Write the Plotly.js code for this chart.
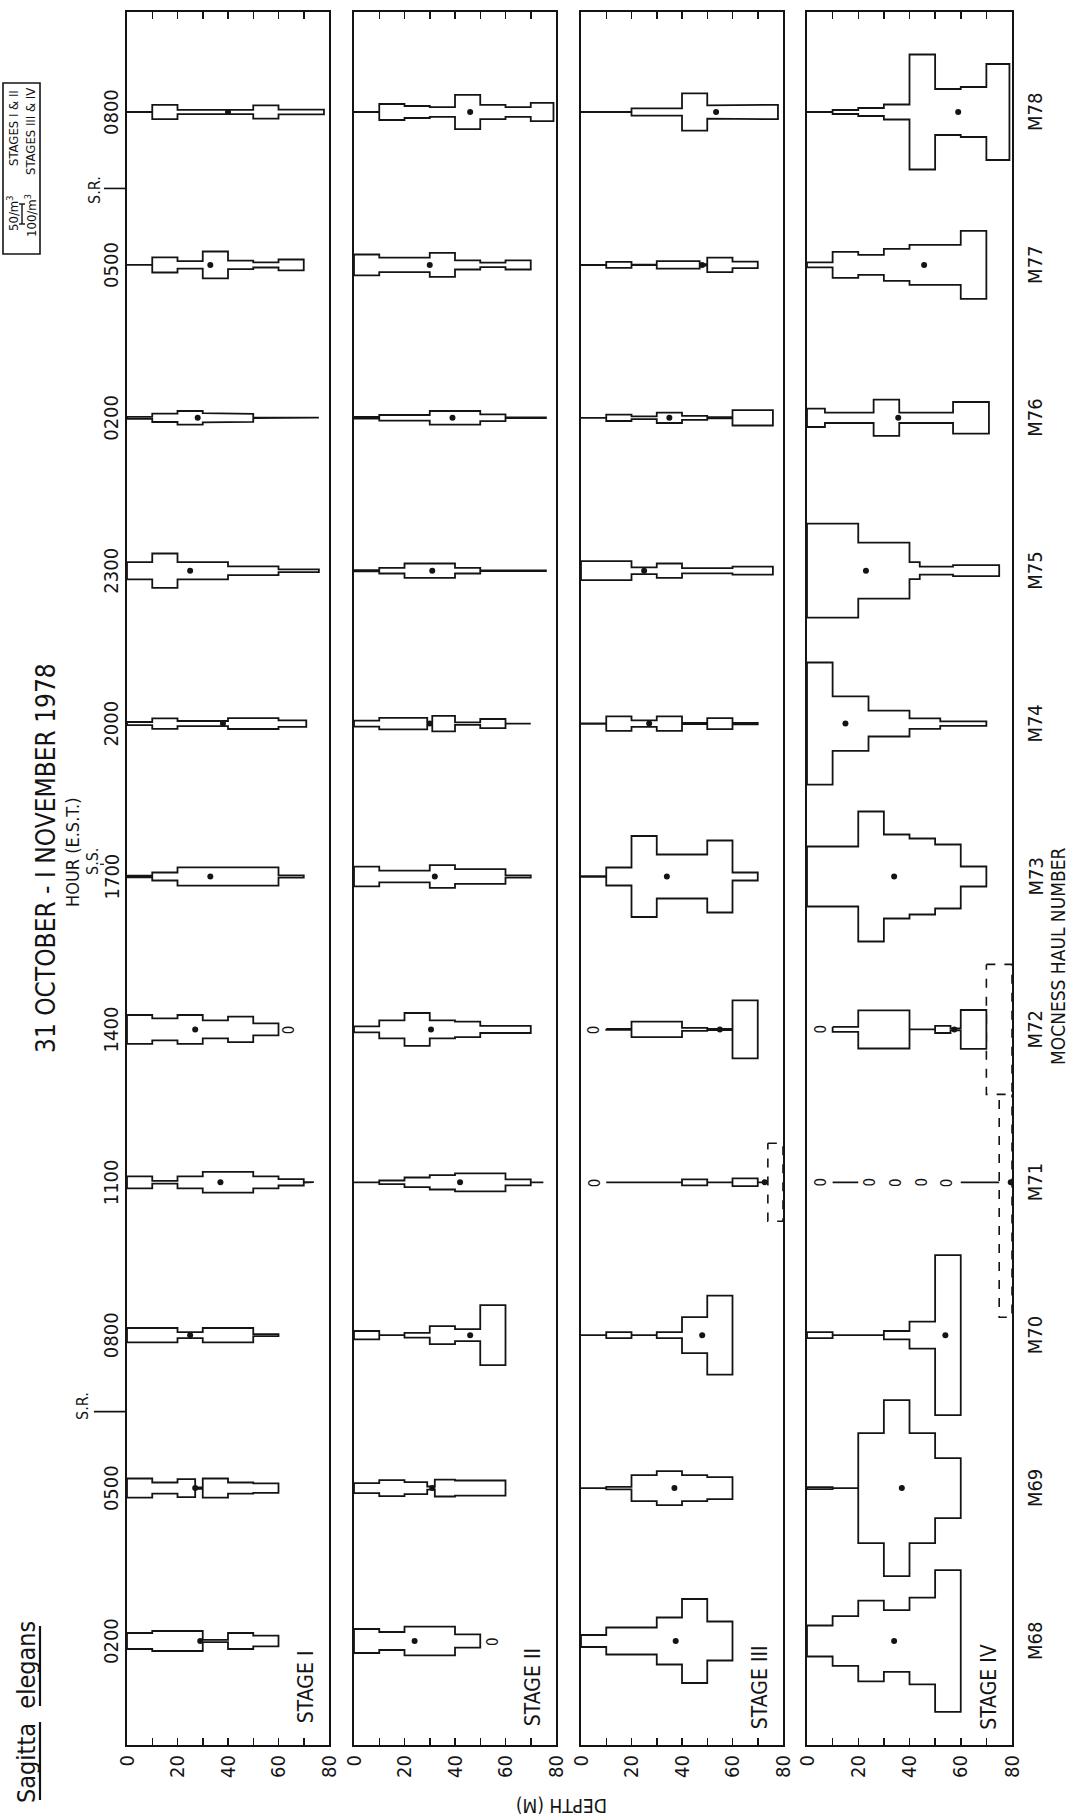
<!DOCTYPE html>
<html><head><meta charset="utf-8">
<script src="https://cdn.plot.ly/plotly-3.0.1.min.js"></script>
<style>body{margin:0;background:#fff}</style>
</head><body><div id="chart" style="width:1075px;height:1818px"></div>
<script>
// ---------------- DATA ----------------
const hauls = ['M68','M69','M70','M71','M72','M73','M74','M75','M76','M77','M78'];
const hours = ['0200','0500','0800','1100','1400','1700','2000','2300','0200','0500','0800'];
const depthLabelTicks = [0,20,40,60,80];
const depthMinorStep = 10;
const stageNames = ['STAGE I','STAGE II','STAGE III','STAGE IV'];
const stageBarValue = [50,50,100,100];   // abundance (no./m3) shown by the legend bar

// depth interval edges (m) and abundance (no./m3) per haul, M68 .. M78
const stage1Edges = [[0,10,30,40,50,60],[0,10,20,27,30,40,50,60],[0,10,20,30,50,60],[0,10,20,30,50,60,70,74],[0,10,20,30,40,50,60],[0,10,20,60,70],[0,10,20,40,60,71],[0,10,20,40,60,76],[0,10,20,30,40,50,76],[0,10,20,30,40,50,60,70],[0,10,20,40,50,60,78]];
const stage1Values = [[40,50,6,40,27],[48,28,45,4,48,28,24],[36,36,15,36,5],[30,7,30,52,30,16,1],[72,55,72,45,64,30],[4,20,46,6],[8,26,13,27,16],[43,86,43,22,7],[5,21,34,23,20,1],[0,38,19,67,21,13,27],[1,36,11,11,33,12]];
const stage1Mean = [29,27,25,37,27,33,38,25,28,33,40];

const stage2Edges = [[0,10,20,40,50],[0,10,20,29,32,40,60],[0,10,20,30,40,50,60],[0,10,20,30,40,60,70,75],[0,10,20,30,40,50,70],[0,10,30,40,60,70],[0,10,29,31,40,50,60,70],[0,10,20,40,50,76],[0,10,30,50,60,76],[0,10,30,40,50,60,70],[0,10,20,30,40,50,60,70,79]];
const stage2Values = [[60,45,72,33],[25,40,30,8,42,38],[21,0,12,45,30,150],[0,9,24,36,45,15,0],[15,45,82,45,39,18],[49,29,57,37,6],[15,29,5,39,6,23,0],[3,14,36,14,2],[4,14,34,17,2],[52,36,60,23,11,23],[0,40,30,24,86,36,24,46]];
const stage2Mean = [24,31,46,42,30.5,32,30,31,39,30,46];

const stage3Edges = [[0,10,30,40,50,60],[0,10,20,30,40,50,60],[0,10,20,30,40,50,60],[10,40,50,60,70,74],[10,20,40,50,60,70],[0,10,20,30,50,60,70],[0,10,20,30,40,50,60,70],[0,20,30,40,60,76],[0,10,20,30,40,50,60,76],[0,10,20,30,47,50,60,70],[0,20,40,50,60,78]];
const stage3Values = [[60,135,235,420,195],[0,12,130,170,130,110],[0,30,0,30,180,395],[0,30,0,39,0],[5,78,15,6,290],[3,90,405,220,360,40],[3,72,32,72,6,55,8],[95,34,72,26,40],[0,32,14,52,20,6,77],[1,30,3,38,8,72,32],[0,37,187,66,72]];
const stage3Mean = [37.5,37,48,72.7,55,34,27,25,35,48,53.5];

const stage4Edges = [[0,10,20,30,40,50,60],[0,10,20,30,40,50,60],[0,10,30,40,50,60],[10,20,60,75],[10,20,40,50,56,60,70],[0,20,30,40,50,60,70],[0,10,24,40,52,70],[0,20,40,44,57,75],[0,7,26,36,57,71],[0,10,20,30,40,60,70],[0,10,20,30,40,50,60,70,79]];
const stage4Values = [[155,248,404,308,434,709],[10,0,550,880,550,300],[30,0,42,135,800],[0,null,0],[25,191,0,36,10,194],[300,650,420,380,320,100],[611,273,129,52,23],[470,280,85,40,55],[92,52,181,52,158],[25,130,100,160,200,340],[1,20,40,75,575,230,250,480]];
const stage4Mean = [34,37,54,79.5,57.5,34,15,23,35.6,45.7,59];

// zero catches ("0" symbols): stage index, haul index, depth
const zeroStage = [0,1,2,2,3,3,3,3,3,3];
const zeroHaul  = [4,0,3,4,3,3,3,3,3,4];
const zeroDepth = [64.5,55,5.5,5.5,5.5,24.7,35,45,54.6,5.5];

// estimated (dashed) values
const dashedStage = [2,3,3];
const dashedHaul  = [3,3,4];
const dashedFrom  = [74,75,70];
const dashedTo    = [80,80,80];
const dashedValue = [390,1350,650];

// ---------------- GEOMETRY ----------------
const W = 1075, H = 1818;
const panelLeft = [127,354,581,807], panelRight = [329,556,783,1012];
const plotTop = 12, plotBottom = 1745;
const haul0Y = 1641, haulStep = 152.9;
const barPx = 20;
const yRange = [(haul0Y-plotBottom)/haulStep, (haul0Y-plotTop)/haulStep];
const INK = '#141414';
const FONT = "'Liberation Sans Narrow','DejaVu Sans Condensed','Arial Narrow',sans-serif";

const allEdges = [stage1Edges,stage2Edges,stage3Edges,stage4Edges];
const allValues = [stage1Values,stage2Values,stage3Values,stage4Values];
const allMeans = [stage1Mean,stage2Mean,stage3Mean,stage4Mean];

function halfIdx(s, v){ return v*(barPx/stageBarValue[s])/2/haulStep; }

function kite(s, edges, vals, c, xs, ys){
  let i = 0;
  while (i < vals.length){
    if (vals[i] === null){ i++; continue; }
    let j = i;
    while (j+1 < vals.length && vals[j+1] !== null) j++;
    for (let k=i;k<=j;k++){ const h=halfIdx(s,vals[k]); xs.push(edges[k],edges[k+1]); ys.push(c+h,c+h); }
    for (let k=j;k>=i;k--){ const h=halfIdx(s,vals[k]); xs.push(edges[k+1],edges[k]); ys.push(c-h,c-h); }
    xs.push(edges[i]); ys.push(c+halfIdx(s,vals[i]));
    xs.push(null); ys.push(null);
    i = j+1;
  }
}

const traces = [];
function axn(s){ return s===0?'':String(s+1); }

// dashed estimates first
for (let d=0; d<dashedStage.length; d++){
  const s=dashedStage[d], c=dashedHaul[d], h=halfIdx(s,dashedValue[d]);
  traces.push({type:'scatter', mode:'lines', xaxis:'x'+axn(s), yaxis:'y'+axn(s),
    x:[dashedFrom[d],dashedTo[d],dashedTo[d],dashedFrom[d],dashedFrom[d]],
    y:[c+h,c+h,c-h,c-h,c+h], fill:'toself', fillcolor:'rgba(255,255,255,1)',
    line:{color:INK,width:1.6,dash:'dash'}, hoverinfo:'skip'});
}
for (let s=0;s<4;s++){
  const xs=[], ys=[];
  for (let hI=0; hI<hauls.length; hI++) kite(s, allEdges[s][hI], allValues[s][hI], hI, xs, ys);
  traces.push({type:'scatter', mode:'lines', xaxis:'x'+axn(s), yaxis:'y'+axn(s), x:xs, y:ys,
    fill:'toself', fillcolor:'white', line:{color:INK,width:1.8}, hoverinfo:'skip'});
  traces.push({type:'scatter', mode:'markers', xaxis:'x'+axn(s), yaxis:'y'+axn(s),
    x:allMeans[s], y:hauls.map((_,i)=>i), cliponaxis:false,
    marker:{color:INK,size:6}, hoverinfo:'skip'});
}

const layout = {width:W, height:H, margin:{l:0,r:0,t:0,b:0}, showlegend:false,
  paper_bgcolor:'white', plot_bgcolor:'white', font:{family:FONT,color:INK,size:16},
  annotations:[], shapes:[]};

function ann(o){ return Object.assign({showarrow:false, xanchor:'center', yanchor:'middle'}, o); }

for (let s=0;s<4;s++){
  layout['xaxis'+axn(s)] = {domain:[panelLeft[s]/W, panelRight[s]/W], range:[0,80], anchor:'y'+axn(s),
    tickmode:'array', tickvals:depthLabelTicks, ticks:'inside', ticklen:7, tickwidth:1.5,
    minor:{dtick:depthMinorStep, tick0:0, ticks:'inside', ticklen:7, tickwidth:1.5, tickcolor:INK, showgrid:false},
    tickcolor:INK, showline:true, linewidth:2, linecolor:INK, mirror:'ticks', tickangle:-90,
    tickfont:{size:20,family:FONT,color:INK}, showgrid:false, zeroline:false, fixedrange:true};
  const ya = {domain:[1-plotBottom/H, 1-plotTop/H], range:yRange, anchor:'x'+axn(s), showline:true, linewidth:2,
    linecolor:INK, mirror:true, showticklabels:false, ticks:'', showgrid:false, zeroline:false, fixedrange:true};
  if (s>0) ya.matches='y';
  layout['yaxis'+axn(s)] = ya;
  layout.annotations.push(ann({xref:'x'+axn(s), yref:'y'+axn(s), x:71, y:-0.3, text:stageNames[s], textangle:-90,
    font:{size:21,family:FONT,color:INK}}));
}
// zeros
for (let z=0; z<zeroStage.length; z++){
  const s=zeroStage[z];
  layout.annotations.push(ann({xref:'x'+axn(s), yref:'y'+axn(s), x:zeroDepth[z], y:zeroHaul[z], text:'0',
    textangle:-90, font:{size:15,family:FONT,color:INK}}));
}
// hour labels & haul labels
hours.forEach((h,i)=>layout.annotations.push(ann({xref:'paper',yref:'y',x:111/W,y:i,text:h,textangle:-90,font:{size:20}})));
hauls.forEach((h,i)=>layout.annotations.push(ann({xref:'paper',yref:'y',x:1035/W,y:i,text:h,textangle:-90,font:{size:20}})));

function P(px){return px/W;} function Q(py){return 1-py/H;}
const texts = [
  {x:1058,y:957,t:'MOCNESS HAUL NUMBER',a:-90,s:19},
  {x:46,y:858,t:'31 OCTOBER - I NOVEMBER 1978',a:-90,s:26},
  {x:72,y:852,t:'HOUR (E.S.T.)',a:-90,s:18},
  {x:92,y:862,t:'S.S.',a:-90,s:16},
  {x:82,y:1406,t:'S.R.',a:-90,s:16},
  {x:95,y:190,t:'S.R.',a:-90,s:16},
  {x:562,y:1806,t:'DEPTH (M)',a:180,s:19},
  {x:26,y:1712,t:'Sagitta  elegans',a:-90,s:25},
  {x:13,y:128,t:'STAGES I & II',a:-90,s:13},
  {x:31,y:132,t:'STAGES III & IV',a:-90,s:13},
  {x:13,y:214,t:'50/m<sup>3</sup>',a:-90,s:13},
  {x:31,y:216,t:'100/m<sup>3</sup>',a:-90,s:13}
];
texts.forEach(o=>layout.annotations.push(ann({xref:'paper',yref:'paper',x:P(o.x),y:Q(o.y),text:o.t,textangle:o.a,font:{size:o.s}})));

const L=(x0,y0,x1,y1,w,dash)=>({type:'line',xref:'paper',yref:'paper',x0:P(x0),y0:Q(y0),x1:P(x1),y1:Q(y1),line:{color:INK,width:w||1.6,dash:dash||'solid'}});
layout.shapes.push({type:'rect',xref:'paper',yref:'paper',x0:P(3),y0:Q(83),x1:P(40),y1:Q(254),line:{color:INK,width:1.6}});
// legend scale bar
layout.shapes.push(L(22,204,22,204+barPx,1.4), L(19,204,25,204,1.4), L(19,204+barPx,25,204+barPx,1.4));
// sunrise / sunset markers
const srY1 = haul0Y-1.5*haulStep, srY2 = haul0Y-9.5*haulStep;
layout.shapes.push(L(94,srY1,127,srY1,1.6), L(104,srY2,127,srY2,1.6), L(100,haul0Y-5.08*haulStep,104,haul0Y-5.08*haulStep,1.2));
// underline of species name
layout.shapes.push(L(40,1800,40,1722,2.2), L(40,1706,40,1626,2.2));

Plotly.newPlot('chart', traces, layout, {staticPlot:true});
</script></body></html>
